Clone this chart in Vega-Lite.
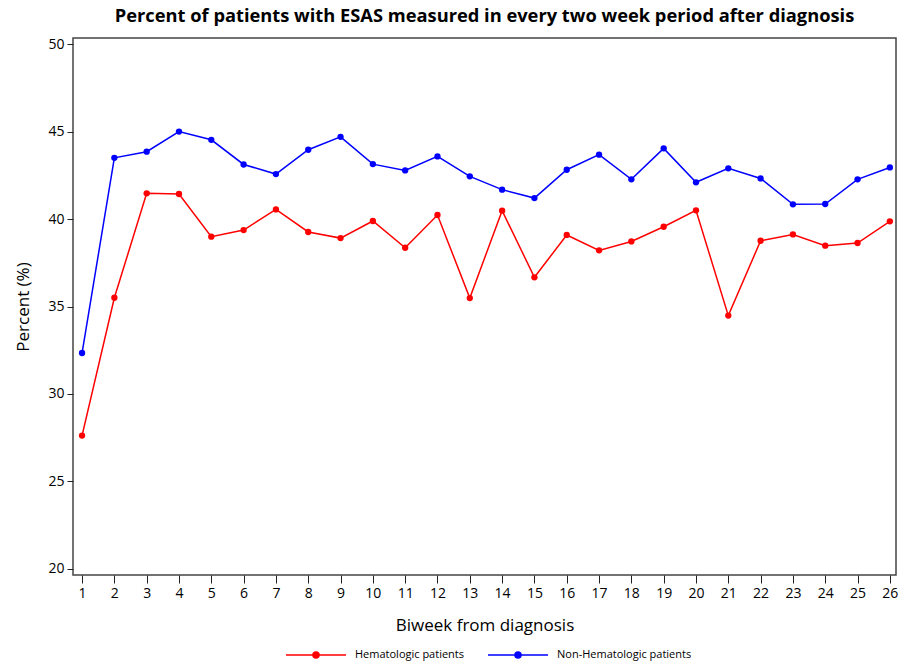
{
  "$schema": "https://vega.github.io/schema/vega-lite/v6.json",
  "width": 823,
  "height": 537,
  "autosize": {"type": "none"},
  "padding": {"left": 73, "top": 38, "right": 16, "bottom": 88},
  "background": "white",
  "title": {
    "text": "Percent of patients with ESAS measured in every two week period after diagnosis",
    "fontSize": 18.3,
    "font": "Open Sans",
    "fontWeight": "bold",
    "anchor": "middle",
    "offset": 11,
    "color": "black"
  },
  "config": {
    "font": "Open Sans",
    "view": {"stroke": "#444444", "strokeWidth": 1.5},
    "axis": {
      "domain": false,
      "grid": false,
      "tickColor": "#222222",
      "labelColor": "black",
      "titleColor": "black",
      "labelFontSize": 14,
      "titleFontSize": 17,
      "titleFontWeight": "normal",
      "labelFont": "Open Sans",
      "titleFont": "Open Sans"
    }
  },
  "data": {
    "values": [
      {"biweek": 1, "group": "Hematologic patients", "pct": 27.62},
      {"biweek": 2, "group": "Hematologic patients", "pct": 35.50},
      {"biweek": 3, "group": "Hematologic patients", "pct": 41.47},
      {"biweek": 4, "group": "Hematologic patients", "pct": 41.43},
      {"biweek": 5, "group": "Hematologic patients", "pct": 38.99},
      {"biweek": 6, "group": "Hematologic patients", "pct": 39.37},
      {"biweek": 7, "group": "Hematologic patients", "pct": 40.55},
      {"biweek": 8, "group": "Hematologic patients", "pct": 39.26},
      {"biweek": 9, "group": "Hematologic patients", "pct": 38.91},
      {"biweek": 10, "group": "Hematologic patients", "pct": 39.89},
      {"biweek": 11, "group": "Hematologic patients", "pct": 38.36},
      {"biweek": 12, "group": "Hematologic patients", "pct": 40.23},
      {"biweek": 13, "group": "Hematologic patients", "pct": 35.48},
      {"biweek": 14, "group": "Hematologic patients", "pct": 40.48},
      {"biweek": 15, "group": "Hematologic patients", "pct": 36.67},
      {"biweek": 16, "group": "Hematologic patients", "pct": 39.09},
      {"biweek": 17, "group": "Hematologic patients", "pct": 38.21},
      {"biweek": 18, "group": "Hematologic patients", "pct": 38.72},
      {"biweek": 19, "group": "Hematologic patients", "pct": 39.56},
      {"biweek": 20, "group": "Hematologic patients", "pct": 40.50},
      {"biweek": 21, "group": "Hematologic patients", "pct": 34.48},
      {"biweek": 22, "group": "Hematologic patients", "pct": 38.76},
      {"biweek": 23, "group": "Hematologic patients", "pct": 39.12},
      {"biweek": 24, "group": "Hematologic patients", "pct": 38.48},
      {"biweek": 25, "group": "Hematologic patients", "pct": 38.63},
      {"biweek": 26, "group": "Hematologic patients", "pct": 39.87},
      {"biweek": 1, "group": "Non-Hematologic patients", "pct": 32.34},
      {"biweek": 2, "group": "Non-Hematologic patients", "pct": 43.50},
      {"biweek": 3, "group": "Non-Hematologic patients", "pct": 43.85},
      {"biweek": 4, "group": "Non-Hematologic patients", "pct": 45.00},
      {"biweek": 5, "group": "Non-Hematologic patients", "pct": 44.53},
      {"biweek": 6, "group": "Non-Hematologic patients", "pct": 43.12},
      {"biweek": 7, "group": "Non-Hematologic patients", "pct": 42.57},
      {"biweek": 8, "group": "Non-Hematologic patients", "pct": 43.96},
      {"biweek": 9, "group": "Non-Hematologic patients", "pct": 44.70},
      {"biweek": 10, "group": "Non-Hematologic patients", "pct": 43.14},
      {"biweek": 11, "group": "Non-Hematologic patients", "pct": 42.78},
      {"biweek": 12, "group": "Non-Hematologic patients", "pct": 43.58},
      {"biweek": 13, "group": "Non-Hematologic patients", "pct": 42.44},
      {"biweek": 14, "group": "Non-Hematologic patients", "pct": 41.68},
      {"biweek": 15, "group": "Non-Hematologic patients", "pct": 41.20},
      {"biweek": 16, "group": "Non-Hematologic patients", "pct": 42.82},
      {"biweek": 17, "group": "Non-Hematologic patients", "pct": 43.68},
      {"biweek": 18, "group": "Non-Hematologic patients", "pct": 42.27},
      {"biweek": 19, "group": "Non-Hematologic patients", "pct": 44.04},
      {"biweek": 20, "group": "Non-Hematologic patients", "pct": 42.10},
      {"biweek": 21, "group": "Non-Hematologic patients", "pct": 42.90},
      {"biweek": 22, "group": "Non-Hematologic patients", "pct": 42.32},
      {"biweek": 23, "group": "Non-Hematologic patients", "pct": 40.84},
      {"biweek": 24, "group": "Non-Hematologic patients", "pct": 40.86},
      {"biweek": 25, "group": "Non-Hematologic patients", "pct": 42.27},
      {"biweek": 26, "group": "Non-Hematologic patients", "pct": 42.95}
    ]
  },
  "mark": {"type": "line", "strokeWidth": 1.5, "point": {"filled": true, "size": 40}},
  "encoding": {
    "x": {
      "field": "biweek",
      "type": "quantitative",
      "scale": {"domain": [0.72, 26.19], "nice": false, "zero": false},
      "axis": {
        "values": [1,2,3,4,5,6,7,8,9,10,11,12,13,14,15,16,17,18,19,20,21,22,23,24,25,26],
        "title": "Biweek from diagnosis",
        "tickSize": 8,
        "labelPadding": 3,
        "titlePadding": 17,
        "labelOverlap": false,
        "labelFlush": false
      }
    },
    "y": {
      "field": "pct",
      "type": "quantitative",
      "scale": {"domain": [19.65, 50.35], "nice": false, "zero": false},
      "axis": {
        "values": [20, 25, 30, 35, 40, 45, 50],
        "title": "Percent (%)",
        "tickSize": 6,
        "labelPadding": 3,
        "titlePadding": 15
      }
    },
    "color": {
      "field": "group",
      "type": "nominal",
      "scale": {
        "domain": ["Hematologic patients", "Non-Hematologic patients"],
        "range": ["#ff0000", "#0000ff"]
      },
      "legend": {
        "title": null,
        "orient": "none",
        "direction": "horizontal",
        "legendX": 212,
        "legendY": 586,
        "symbolType": "M-1,0L1,0M0.1,0A0.1,0.1 0 1 1 -0.1,0A0.1,0.1 0 1 1 0.1,0Z",
        "symbolSize": 3600,
        "symbolStrokeWidth": 1.5,
        "labelFontSize": 11,
        "labelColor": "black",
        "labelOffset": 8,
        "columnPadding": 20,
        "encode": {
          "symbols": {
            "update": {
              "fill": {"scale": "color", "field": "value"},
              "stroke": {"scale": "color", "field": "value"},
              "opacity": {"value": 1}
            }
          }
        }
      }
    }
  }
}
